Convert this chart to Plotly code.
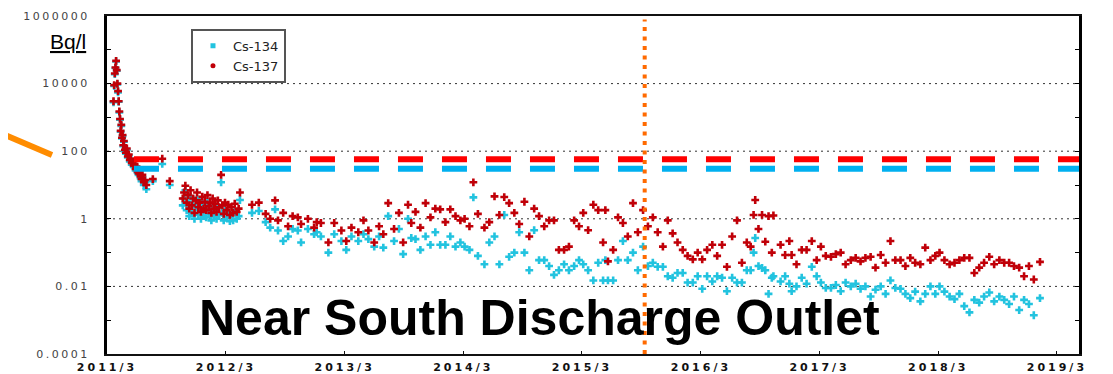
import plotly.graph_objects as go

# ---------------- data ----------------
SAMPLE_DATES = [
    "2011-03-21", "2011-03-23", "2011-03-25", "2011-03-27", "2011-03-29", "2011-03-31",
    "2011-04-02", "2011-04-04", "2011-04-06", "2011-04-08", "2011-04-10", "2011-04-12",
    "2011-04-14", "2011-04-16", "2011-04-18", "2011-04-20", "2011-04-22", "2011-04-25",
    "2011-04-28", "2011-05-01", "2011-05-04", "2011-05-07", "2011-05-10", "2011-05-13",
    "2011-05-16", "2011-05-19", "2011-05-22", "2011-05-25", "2011-05-28", "2011-05-31",
    "2011-06-03", "2011-06-06", "2011-06-09", "2011-06-12", "2011-06-15", "2011-06-18",
    "2011-06-22", "2011-06-26", "2011-06-30",
    "2011-07-20", "2011-08-18", "2011-09-10",
    "2011-10-20", "2011-10-24", "2011-10-28", "2011-11-01", "2011-11-05", "2011-11-09",
    "2011-11-13", "2011-11-17", "2011-11-21", "2011-11-25", "2011-11-29", "2011-12-03",
    "2011-12-07", "2011-12-11", "2011-12-15", "2011-12-19", "2011-12-23", "2011-12-27",
    "2011-12-31", "2012-01-04", "2012-01-08", "2012-01-12", "2012-01-16", "2012-01-20",
    "2012-01-24", "2012-01-28", "2012-02-01", "2012-02-05", "2012-02-09", "2012-02-15",
    "2012-02-19", "2012-02-23", "2012-02-27", "2012-03-03", "2012-03-08", "2012-03-13",
    "2012-03-18", "2012-03-23", "2012-03-28", "2012-04-03", "2012-04-09",
    "2012-04-13", "2012-05-20", "2012-06-10", "2012-07-01", "2012-07-15", "2012-07-30",
    "2012-08-08", "2012-08-24", "2012-09-08", "2012-09-22", "2012-10-08", "2012-10-18",
    "2012-11-08", "2012-11-27", "2012-12-05", "2012-12-18", "2013-01-10", "2013-01-28",
    "2013-02-19", "2013-03-06", "2013-03-22", "2013-04-12", "2013-04-28", "2013-05-13",
    "2013-05-31", "2013-06-15", "2013-06-28", "2013-07-13", "2013-07-31", "2013-08-15",
    "2013-08-28", "2013-09-12", "2013-09-22",
    "2013-10-05", "2013-10-20", "2013-11-05", "2013-11-20", "2013-12-05", "2013-12-20",
    "2014-01-05", "2014-01-20", "2014-02-05", "2014-02-20", "2014-03-05", "2014-03-20",
    "2014-04-01", "2014-04-15", "2014-05-05", "2014-05-20", "2014-06-05", "2014-06-20",
    "2014-07-05", "2014-07-20", "2014-08-05", "2014-08-20", "2014-09-05", "2014-09-20",
    "2014-10-05", "2014-10-20", "2014-11-05", "2014-11-20", "2014-12-05", "2014-12-20",
    "2015-01-05", "2015-01-20", "2015-02-05", "2015-02-20", "2015-03-05", "2015-03-20",
    "2015-04-05", "2015-04-20", "2015-05-05", "2015-05-12", "2015-05-20", "2015-06-05",
    "2015-06-20", "2015-07-05", "2015-07-20", "2015-08-05", "2015-08-20", "2015-09-05",
    "2015-09-20", "2015-10-05", "2015-10-20", "2015-11-05", "2015-11-20", "2015-12-05",
    "2015-12-20", "2016-01-05", "2016-01-20", "2016-02-05", "2016-02-20", "2016-03-05",
    "2016-03-20", "2016-04-05", "2016-04-20", "2016-05-05", "2016-05-20", "2016-06-05",
    "2016-06-20", "2016-07-05", "2016-07-20", "2016-08-01", "2016-08-10", "2016-08-15",
    "2016-08-25", "2016-09-05", "2016-09-15", "2016-09-25", "2016-10-05", "2016-10-10",
    "2016-11-01", "2016-11-15", "2016-11-28", "2016-12-05", "2016-12-20", "2017-01-05",
    "2017-01-20", "2017-02-05", "2017-02-20", "2017-03-05", "2017-03-20", "2017-04-05",
    "2017-04-20", "2017-05-05", "2017-05-20", "2017-06-05", "2017-06-20", "2017-07-05",
    "2017-07-20", "2017-08-05", "2017-08-20", "2017-09-05", "2017-09-20", "2017-10-05",
    "2017-10-20", "2017-11-05", "2017-11-20", "2017-12-05", "2017-12-20", "2018-01-05",
    "2018-01-20", "2018-02-05", "2018-02-20", "2018-03-05", "2018-03-20", "2018-04-05",
    "2018-04-20", "2018-05-05", "2018-05-20", "2018-06-05", "2018-06-20", "2018-07-05",
    "2018-07-20", "2018-08-05", "2018-08-20", "2018-09-05", "2018-09-20", "2018-10-05",
    "2018-10-20", "2018-11-05", "2018-11-20", "2018-12-05", "2018-12-20", "2019-01-08",
]

CS137 = [
    3000, 9000, 20000, 30000, 47000, 25000,
    10000, 6000, 3000, 1500, 900, 400,
    600, 250, 300, 150, 200, 110,
    90, 120, 70, 80, 55, 60,
    45, 50, 38, 42, 30, 35,
    25, 22, 28, 18, 15, 20,
    12, 14, 10,
    15, 60, 13,
    4.0, 6.0, 9.5, 3.0, 5.0, 2.0,
    7.0, 2.5, 4.0, 1.5, 3.5, 6.0,
    2.2, 3.0, 1.6, 4.5, 2.0, 3.2,
    1.8, 5.0, 2.4, 3.0, 1.5, 4.0,
    2.0, 2.8, 1.6, 3.5, 2.2, 20,
    2.5, 1.4, 3.0, 1.8, 2.6, 1.3,
    2.2, 1.5, 2.8, 1.6, 2.0,
    6.0, 2.6, 3.0, 1.4, 1.0, 3.5,
    0.9, 1.5, 0.6, 1.2, 1.1, 0.7,
    1.0, 0.55, 0.8, 0.75, 0.2, 0.75,
    0.45, 0.22, 0.55, 0.4, 0.9, 0.45,
    0.2, 0.6, 0.35, 2.9, 0.5, 1.5,
    0.2, 2.6, 0.75,
    1.6, 0.55, 2.9, 1.1, 2.0, 1.9,
    0.8, 1.9, 1.2, 0.9, 1.0, 0.6,
    12, 1.4, 0.55, 0.8, 4.6, 1.3,
    4.4, 2.9, 1.5, 0.7, 3.2, 0.3,
    2.0, 1.2, 0.6, 0.9, 0.9, 0.12,
    0.12, 0.15, 0.9, 0.6, 1.5, 0.46,
    2.6, 1.8, 0.2, 1.8, 0.055, 0.12,
    1.1, 0.75, 0.3, 2.9, 0.4, 1.8,
    0.6, 1.1, 0.4, 0.15, 0.9, 0.37,
    0.2, 0.12, 0.08, 0.063, 0.1, 0.063,
    0.12, 0.17, 0.08, 0.17, 0.038, 0.3,
    0.9, 0.05, 0.2, 0.15, 1.3, 3.6,
    0.5, 1.3, 0.21, 1.2, 0.1, 1.25,
    0.17, 0.085, 0.22, 0.085, 0.045, 0.12,
    0.12, 0.22, 0.06, 0.15, 0.08, 0.075,
    0.09, 0.1, 0.045, 0.06, 0.07, 0.055,
    0.07, 0.075, 0.036, 0.085, 0.05, 0.22,
    0.06, 0.06, 0.04, 0.07, 0.05, 0.045,
    0.14, 0.06, 0.08, 0.1, 0.06, 0.045,
    0.05, 0.06, 0.07, 0.07, 0.025, 0.036,
    0.05, 0.075, 0.045, 0.06, 0.05, 0.05,
    0.04, 0.036, 0.02, 0.04, 0.016, 0.053,
]

CS134 = [
    2800, 8500, 19000, 29000, 45000, 24000,
    9500, 5500, 2900, 1400, 850, 380,
    560, 240, 280, 140, 190, 100,
    85, 110, 65, 75, 50, 55,
    40, 46, 35, 38, 27, 31,
    23, 20, 25, 16, 13, 17,
    10, 12, 7.5,
    13, 42, 10,
    2.5, 4.0, 7.0, 1.8, 3.2, 1.2,
    4.5, 1.5, 2.6, 1.0, 2.2, 3.8,
    1.3, 1.9, 1.0, 2.8, 1.2, 2.0,
    1.1, 3.0, 1.4, 1.8, 0.9, 2.4,
    1.2, 1.7, 1.0, 2.1, 1.3, 12,
    1.5, 0.9, 1.8, 1.1, 1.5, 0.85,
    1.3, 0.9, 1.6, 1.0, 1.2,
    3.6, 1.5, 1.7, 0.8, 0.55, 1.9,
    0.45, 0.22, 0.3, 0.5, 0.45, 0.2,
    0.5, 0.35, 0.4, 0.3, 0.1, 0.35,
    0.22, 0.12, 0.3, 0.22, 0.35, 0.25,
    0.15, 0.3, 0.14, 1.2, 0.22, 0.5,
    0.09, 1.0, 0.27,
    0.25, 0.12, 0.3, 0.17, 0.4, 0.17,
    0.17, 0.3, 0.15, 0.2, 0.15, 0.12,
    4.3, 0.08, 0.045, 0.2, 0.3, 0.045,
    1.3, 0.075, 0.1, 0.4, 0.1, 0.03,
    0.46, 0.06, 0.06, 0.04, 0.022, 0.03,
    0.045, 0.03, 0.04, 0.06, 0.045, 0.03,
    0.015, 0.05, 0.015, 0.06, 0.015, 0.015,
    0.06, 0.22, 0.06, 0.1, 0.03, 0.15,
    0.04, 0.05, 0.038, 0.038, 0.02, 0.018,
    0.025, 0.025, 0.013, 0.013, 0.02, 0.0085,
    0.02, 0.014, 0.02, 0.018, 0.0072, 0.018,
    0.013, 0.013, 0.03, 0.03, 0.1, 0.27,
    0.04, 0.035, 0.03, 0.006, 0.018, 0.02,
    0.014, 0.02, 0.012, 0.0072, 0.01, 0.018,
    0.012, 0.038, 0.02, 0.013, 0.009, 0.009,
    0.011, 0.0072, 0.013, 0.01, 0.012, 0.0085,
    0.01, 0.005, 0.008, 0.01, 0.006, 0.015,
    0.009, 0.0085, 0.006, 0.0045, 0.007, 0.0036,
    0.006, 0.01, 0.006, 0.01, 0.007, 0.005,
    0.0042, 0.006, 0.0026, 0.0017, 0.004, 0.0033,
    0.005, 0.0066, 0.0036, 0.005, 0.004, 0.003,
    0.005, 0.002, 0.004, 0.003, 0.0014, 0.0045,
]

SERIES_NAMES = ["Cs-134", "Cs-137"]
X_TICK_DATES = ["2011-03-01", "2012-03-01", "2013-03-01", "2014-03-01", "2015-03-01",
                "2016-03-01", "2017-03-01", "2018-03-01", "2019-03-01"]
X_TICK_LABELS = ["2011/3", "2012/3", "2013/3", "2014/3", "2015/3",
                 "2016/3", "2017/3", "2018/3", "2019/3"]
Y_TICK_VALUES = [1e-4, 1e-3, 1e-2, 1e-1, 1, 10, 100, 1e3, 1e4, 1e5, 1e6]
Y_TICK_LABELS = ["0.0001", "", "0.01", "", "1", "", "100", "", "10000", "", "1000000"]
GRID_VALUES = [1e-2, 1, 100, 1e4]
LIMIT_CS137 = 58      # red dashed reference level
LIMIT_CS134 = 30      # blue dashed reference level
LIMIT_START = "2011-05-23"
MARKER_DATE = "2015-09-10"   # orange dotted vertical marker
X_RANGE = ["2011-03-01", "2019-05-08"]

# ---------------- figure ----------------
C134 = "#22C3DF"
C137 = "#C00008"

fig = go.Figure()
fig.add_trace(go.Scatter(x=SAMPLE_DATES, y=CS134, mode="markers", name=SERIES_NAMES[0],
                         showlegend=False,
                         marker=dict(symbol="cross", size=6.5, color=C134, line=dict(width=0))))
fig.add_trace(go.Scatter(x=SAMPLE_DATES, y=CS137, mode="markers", name=SERIES_NAMES[1],
                         showlegend=False,
                         marker=dict(symbol="cross", size=6.5, color=C137, line=dict(width=0))))
# legend-only entries (small square / small dot as in the original)
fig.add_trace(go.Scatter(x=[None], y=[None], mode="markers", name=SERIES_NAMES[0],
                         marker=dict(symbol="square", size=5, color=C134)))
fig.add_trace(go.Scatter(x=[None], y=[None], mode="markers", name=SERIES_NAMES[1],
                         marker=dict(symbol="circle", size=5, color=C137)))

shapes = []
for g in GRID_VALUES:
    shapes.append(dict(type="line", xref="paper", x0=0, x1=1, yref="y", y0=g, y1=g,
                       line=dict(color="#333333", width=1, dash="2px,4px"), layer="below"))
shapes.append(dict(type="line", xref="x", x0=LIMIT_START, x1=X_RANGE[1], yref="y",
                   y0=LIMIT_CS137, y1=LIMIT_CS137,
                   line=dict(color="#FF0000", width=6, dash="25px,19px")))
shapes.append(dict(type="line", xref="x", x0=LIMIT_START, x1=X_RANGE[1], yref="y",
                   y0=LIMIT_CS134, y1=LIMIT_CS134,
                   line=dict(color="#00B0F0", width=6, dash="25px,19px")))
shapes.append(dict(type="line", xref="x", x0=MARKER_DATE, x1=MARKER_DATE, yref="paper",
                   y0=0, y1=0.99, line=dict(color="#FF6A00", width=4, dash="4px,5.5px")))
# orange pointer outside the plot at the left
shapes.append(dict(type="line", xref="paper", x0=-0.11, x1=-0.0566, yref="paper",
                   y0=0.654, y1=0.589, line=dict(color="#FF8C00", width=6)))

# page body has an 8 px margin, so the figure is 8 px smaller than the window
fig.update_layout(
    width=1105, height=366,
    margin=dict(l=99, r=34, t=8, b=20, autoexpand=False),
    paper_bgcolor="white", plot_bgcolor="white",
    showlegend=True,
    legend=dict(x=0.0864, y=0.962, xanchor="left", yanchor="top",
                bgcolor="white", bordercolor="#555555", borderwidth=2,
                font=dict(family="DejaVu Sans", size=13, color="#222222"),
                itemwidth=30, tracegroupgap=0),
    shapes=shapes,
    annotations=[
        dict(text="<u>Bq/l</u>", xref="paper", yref="paper", x=-0.040, y=0.926,
             xanchor="center", yanchor="middle", showarrow=False,
             font=dict(family="Liberation Sans", size=21, color="#000000")),
        dict(text="<b>Near South Discharge Outlet</b>", xref="paper", yref="paper",
             x=0.445, y=0.1065, xanchor="center", yanchor="middle", showarrow=False,
             font=dict(family="Liberation Sans", size=50, color="#000000")),
    ],
)
fig.update_xaxes(type="date", range=X_RANGE, tickvals=X_TICK_DATES, ticktext=X_TICK_LABELS,
                 automargin=False,
                 showgrid=False, zeroline=False, showline=True, linecolor="#111111",
                 linewidth=2, mirror=True, ticks="inside", ticklen=3, tickcolor="#111111",
                 tickfont=dict(family="DejaVu Sans", size=11, color="#111111", weight="bold"),
                 ticklabelstandoff=2)
fig.update_yaxes(type="log", range=[-4, 6], tickvals=Y_TICK_VALUES, ticktext=Y_TICK_LABELS,
                 automargin=False,
                 showgrid=False, zeroline=False, showline=True, linecolor="#000000",
                 linewidth=3, mirror="ticks", ticks="inside", ticklen=4, tickcolor="#000000",
                 tickfont=dict(family="DejaVu Sans", size=11, color="#444444"),
                 ticklabelstandoff=12)

# the original chart's tick labels are widely spaced; reproduce that spacing
SPACING_JS = """
var gd = document.getElementById('{plot_id}');
gd.querySelectorAll('.xtick text').forEach(function(t){ t.style.letterSpacing = '3px'; });
gd.querySelectorAll('.ytick text').forEach(function(t){ t.style.letterSpacing = '2.5px'; });
"""

fig.write_html("out.html", config={"displayModeBar": False}, post_script=SPACING_JS)
